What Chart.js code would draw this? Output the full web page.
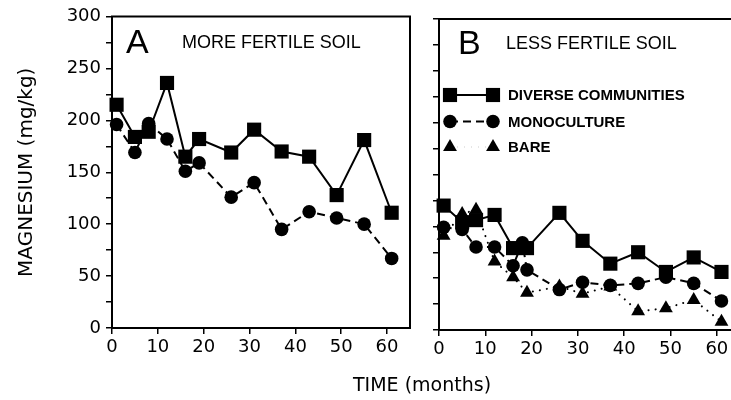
<!DOCTYPE html>
<html>
<head>
<meta charset="utf-8">
<script src="https://cdn.jsdelivr.net/npm/chart.js@4.4.1/dist/chart.umd.min.js"></script>
<style>
  html, body { margin: 0; padding: 0; background: #fff; width: 731px; height: 400px; overflow: hidden; }
  #wrapA { position: absolute; left: 0; top: 0; width: 420px; height: 400px; }
  #wrapB { position: absolute; left: 420px; top: 0; width: 330px; height: 400px; }
  #xTitle { position: absolute; left: 353px; top: 375px; font: 19px/19px "DejaVu Sans"; color: #000; white-space: nowrap; }
</style>
</head>
<body>
<div id="wrapA"><canvas id="chartA" width="420" height="400"></canvas></div>
<div id="wrapB"><canvas id="chartB" width="330" height="400"></canvas></div>
<div id="xTitle">TIME (months)</div>
<script>
// sampling times (months)
const months = [1, 5, 8, 12, 16, 19, 26, 31, 37, 43, 49, 55, 61];
const lessMonoMonths = [1, 5, 8, 12, 16, 18, 19, 26, 31, 37, 43, 49, 55, 61];

// A: more fertile soil
const fertileDiverse = [215, 184, 189, 236, 165, 182, 169, 191, 170, 165, 128, 181, 111];
const fertileMono = [196, 169, 197, 182, 151, 159, 126, 140, 95, 112, 106, 100, 67];

// B: less fertile soil
const lessDiverse = [120, 104, 106, 111, 79, 79, 113, 86, 64, 75, 56, 70, 56];
const lessMono = [99, 97, 80, 80, 62, 84, 58, 39, 46, 43, 45, 51, 45, 28];
const lessBare = [91, 112, 116, 66, 51, 36, 42, 35, 42, 18, 21, 29, 8];

const xTicks = [0, 10, 20, 30, 40, 50, 60];
const yTicks = [0, 50, 100, 150, 200, 250, 300];

const tickFont = { family: 'DejaVu Sans', size: 18 };

function pts(xs, ys) {
  return xs.map((x, i) => ({ x: x, y: ys[i] }));
}

const styles = {
  diverse: { pointStyle: 'rect', pointRadius: 10, borderDash: [] },
  mono: { pointStyle: 'circle', pointRadius: 6.8, borderDash: [8, 5] },
  bare: { pointStyle: 'triangle', pointRadius: 8, borderDash: [0.1, 7] }
};

function dataset(label, data, st) {
  return {
    label: label,
    data: data,
    borderColor: '#000',
    backgroundColor: '#000',
    borderWidth: 2,
    borderDash: st.borderDash,
    borderCapStyle: st === styles.bare ? 'round' : 'butt',
    pointStyle: st.pointStyle,
    pointRadius: st.pointRadius,
    pointBorderWidth: 0,
    pointHoverRadius: st.pointRadius,
    tension: 0,
    clip: false
  };
}

// box round the plot + panel letter and title
const framePlugin = {
  id: 'frame',
  beforeDatasetsDraw(chart, args, opts) {
    const { ctx, chartArea: a } = chart;
    ctx.save();
    ctx.strokeStyle = '#000';
    ctx.lineWidth = 2;
    ctx.strokeRect(a.left, a.top, a.right - a.left, a.bottom - a.top);
    ctx.fillStyle = '#000';
    ctx.textBaseline = 'alphabetic';
    ctx.font = '34px "Liberation Sans"';
    ctx.fillText(opts.letter, opts.letterX, opts.baseY + 5);
    ctx.font = '18px "Liberation Sans"';
    ctx.fillText(opts.title, opts.titleX, opts.baseY);
    ctx.restore();
  }
};

function marker(ctx, st, x, y) {
  ctx.beginPath();
  if (st.pointStyle === 'rect') {
    const s = st.pointRadius * Math.SQRT1_2;
    ctx.rect(x - s, y - s, 2 * s, 2 * s);
  } else if (st.pointStyle === 'circle') {
    ctx.arc(x, y, st.pointRadius, 0, Math.PI * 2);
  } else {
    const r = st.pointRadius;
    ctx.moveTo(x, y - r);
    ctx.lineTo(x + r * Math.sin(Math.PI * 2 / 3), y + r / 2);
    ctx.lineTo(x - r * Math.sin(Math.PI * 2 / 3), y + r / 2);
    ctx.closePath();
  }
  ctx.fill();
}

const legendPlugin = {
  id: 'soilLegend',
  afterDraw(chart, args, opts) {
    if (!opts.rows) return;
    const ctx = chart.ctx;
    ctx.save();
    ctx.fillStyle = '#000';
    ctx.strokeStyle = '#000';
    opts.rows.forEach(r => {
      ctx.lineWidth = 2;
      ctx.setLineDash(r.st.borderDash);
      ctx.lineCap = r.st === styles.bare ? 'round' : 'butt';
      ctx.beginPath();
      ctx.moveTo(opts.x1, r.y);
      ctx.lineTo(opts.x2, r.y);
      ctx.stroke();
      ctx.setLineDash([]);
      marker(ctx, r.st, opts.x1, r.y);
      marker(ctx, r.st, opts.x2, r.y);
      ctx.font = 'bold 15px "Liberation Sans"';
      ctx.textBaseline = 'middle';
      ctx.fillText(r.text, opts.textX, r.y + 1);
    });
    ctx.restore();
  }
};

function gridOpts() {
  return { display: true, drawOnChartArea: false, drawTicks: true, tickLength: 6, color: '#000', lineWidth: 1.5 };
}

function xScale(h) {
  return {
    type: 'linear', min: 0, max: 65,
    afterBuildTicks: s => { s.ticks = xTicks.map(v => ({ value: v })); },
    afterFit: s => { s.height = h; },
    ticks: { font: tickFont, color: '#000', padding: 3, maxRotation: 0, autoSkip: false },
    grid: gridOpts(),
    border: { display: false }
  };
}

const chartA = new Chart(document.getElementById('chartA'), {
  type: 'line',
  data: {
    datasets: [
      dataset('DIVERSE COMMUNITIES', pts(months, fertileDiverse), styles.diverse),
      dataset('MONOCULTURE', pts(months, fertileMono), styles.mono)
    ]
  },
  options: {
    responsive: false,
    animation: false,
    devicePixelRatio: 1,
    layout: { padding: { top: 16.5, right: 7, left: 0, bottom: 0 } },
    plugins: {
      legend: { display: false },
      tooltip: { enabled: false },
      frame: { letter: 'A', letterX: 126, title: 'MORE FERTILE SOIL', titleX: 182, baseY: 48 }
    },
    scales: {
      x: xScale(72),
      y: {
        min: 0, max: 300,
        afterFit: s => { s.width = 112; },
        ticks: {
          stepSize: 25, font: tickFont, color: '#000', padding: 5,
          callback: v => yTicks.includes(v) ? String(v) : ''
        },
        grid: gridOpts(),
        border: { display: false },
        title: {
          display: true, text: 'MAGNESIUM (mg/kg)', color: '#000',
          font: { family: 'DejaVu Sans', size: 20 },
          padding: { top: 15, bottom: 0 }
        }
      }
    }
  },
  plugins: [framePlugin, legendPlugin]
});

const chartB = new Chart(document.getElementById('chartB'), {
  type: 'line',
  data: {
    datasets: [
      dataset('DIVERSE COMMUNITIES', pts(months, lessDiverse), styles.diverse),
      dataset('MONOCULTURE', pts(lessMonoMonths, lessMono), styles.mono),
      dataset('BARE', pts(months, lessBare), styles.bare)
    ]
  },
  options: {
    responsive: false,
    animation: false,
    devicePixelRatio: 1,
    layout: { padding: { top: 19, right: 7.5, left: 0, bottom: 0 } },
    plugins: {
      legend: { display: false },
      tooltip: { enabled: false },
      frame: { letter: 'B', letterX: 38, title: 'LESS FERTILE SOIL', titleX: 86, baseY: 49 },
      soilLegend: {
        x1: 30, x2: 73, textX: 88,
        rows: [
          { st: styles.diverse, y: 95, text: 'DIVERSE COMMUNITIES' },
          { st: styles.mono, y: 121.5, text: 'MONOCULTURE' },
          { st: styles.bare, y: 147, text: 'BARE' }
        ]
      }
    },
    scales: {
      x: xScale(70),
      y: {
        min: 0, max: 300,
        afterFit: s => { s.width = 19; },
        ticks: { stepSize: 25, font: tickFont, color: '#000', padding: 0, callback: () => '' },
        grid: gridOpts(),
        border: { display: false }
      }
    }
  },
  plugins: [framePlugin, legendPlugin]
});
</script>
</body>
</html>
